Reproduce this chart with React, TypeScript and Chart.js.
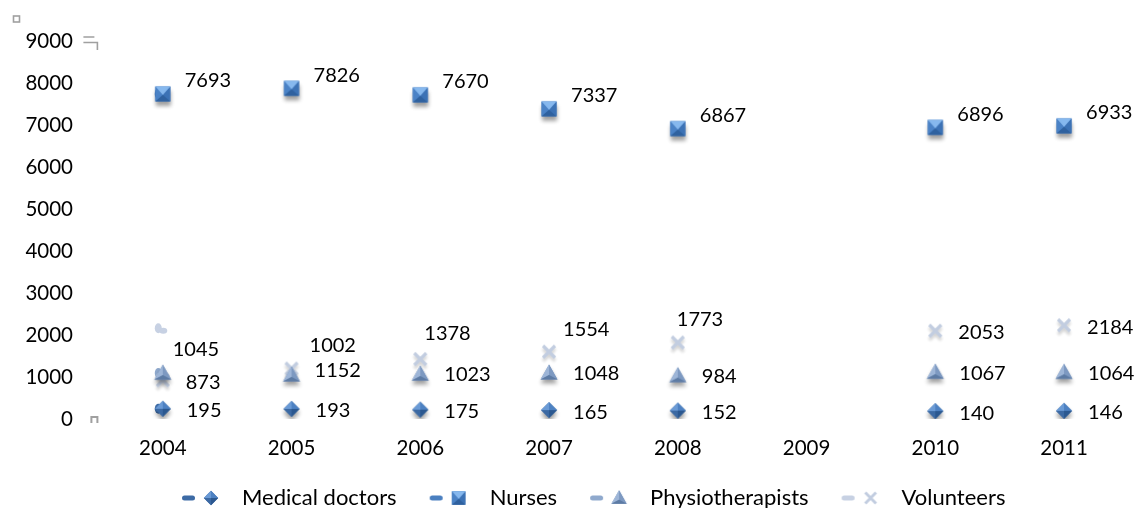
import React, { useEffect, useRef } from "react";
import { Chart, registerables } from "chart.js";

Chart.register(...registerables);

const years = ["2004", "2005", "2006", "2007", "2008", "2009", "2010", "2011"];
const medicalDoctors = [195, 193, 175, 165, 152, null, 140, 146];
const nurses = [7693, 7826, 7670, 7337, 6867, null, 6896, 6933];
const physiotherapists = [1045, 1002, 1023, 1048, 984, null, 1067, 1064];
const volunteers = [873, 1152, 1378, 1554, 1773, null, 2053, 2184];
const seriesNames = ["Medical doctors", "Nurses", "Physiotherapists", "Volunteers"];
const yMin = 0;
const yMax = 9000;
const yStep = 1000;

const FONT = "Lato, 'Open Sans', sans-serif";

type Pt = [number, number];

function poly(g: CanvasRenderingContext2D, pts: Pt[], fill: string) {
  g.beginPath();
  g.moveTo(pts[0][0], pts[0][1]);
  for (let i = 1; i < pts.length; i++) g.lineTo(pts[i][0], pts[i][1]);
  g.closePath();
  g.fillStyle = fill;
  g.fill();
}

function drawShape(g: CanvasRenderingContext2D, kind: string, cx: number, cy: number, s: number, shadow: boolean) {
  const setShadow = () => {
    if (shadow) {
      g.shadowColor = "rgba(0,0,0,0.38)";
      g.shadowBlur = 4;
      g.shadowOffsetY = 4;
    }
  };
  const clearShadow = () => {
    g.shadowColor = "transparent";
    g.shadowBlur = 0;
    g.shadowOffsetY = 0;
  };
  if (kind === "diamond") {
    const r = 8 * s;
    const T: Pt = [cx, cy - r], R: Pt = [cx + r, cy], B: Pt = [cx, cy + r], L: Pt = [cx - r, cy], C: Pt = [cx, cy];
    g.save(); setShadow(); poly(g, [T, R, B, L], "#3d6ca7"); g.restore(); clearShadow();
    poly(g, [T, L, C], "#6a9ad5");
    poly(g, [T, R, C], "#4d81c2");
    poly(g, [R, B, C], "#2b5890");
    poly(g, [B, L, C], "#3b69a3");
  } else if (kind === "square") {
    const h = 7.5 * s;
    const TL: Pt = [cx - h, cy - h], TR: Pt = [cx + h, cy - h], BR: Pt = [cx + h, cy + h], BL: Pt = [cx - h, cy + h], C: Pt = [cx, cy + 1 * s];
    g.save(); setShadow(); poly(g, [TL, TR, BR, BL], "#3f76b8"); g.restore(); clearShadow();
    poly(g, [TL, BL, C], "#4a82c6");
    poly(g, [TR, BR, C], "#3c72b5");
    poly(g, [BL, BR, C], "#2f619f");
    poly(g, [TL, TR, C], "#86b8ee");
  } else if (kind === "triangle") {
    const A: Pt = [cx, cy - 8.5 * s], BL: Pt = [cx - 8.5 * s, cy + 6.5 * s], BR: Pt = [cx + 8.5 * s, cy + 6.5 * s], C: Pt = [cx, cy + 2 * s];
    g.save(); setShadow(); poly(g, [A, BR, BL], "#7591bb"); g.restore(); clearShadow();
    poly(g, [A, BL, C], "#9db5d7");
    poly(g, [A, BR, C], "#7d99c1");
    poly(g, [BL, BR, C], "#5d7ba4");
  } else if (kind === "cross") {
    const r = 6 * s;
    g.save();
    if (shadow) {
      g.shadowColor = "rgba(0,0,0,0.18)";
      g.shadowBlur = 3;
      g.shadowOffsetY = 3;
    }
    g.strokeStyle = "#c2cde0";
    g.lineWidth = 3.2 * s;
    g.beginPath();
    g.moveTo(cx - r, cy - r); g.lineTo(cx + r, cy + r);
    g.moveTo(cx + r, cy - r); g.lineTo(cx - r, cy + r);
    g.stroke();
    g.restore();
  }
}

function makeMarker(kind: string): HTMLCanvasElement {
  const c = document.createElement("canvas");
  c.width = 32; c.height = 32;
  const g = c.getContext("2d")!;
  drawShape(g, kind, 16, 14, 1, true);
  return c;
}

const ICON_LEFT = 7;
function makeLegendIcon(kind: string, dash: string): HTMLCanvasElement {
  const c = document.createElement("canvas");
  c.width = 49 + ICON_LEFT; c.height = 22;
  const g = c.getContext("2d")!;
  g.fillStyle = dash;
  g.beginPath();
  const x0 = ICON_LEFT, r = 2.5;
  g.moveTo(x0 + r, 8.5);
  g.lineTo(x0 + 13 - r, 8.5);
  g.arc(x0 + 13 - r, 11, r, -Math.PI / 2, Math.PI / 2);
  g.lineTo(x0 + r, 13.5);
  g.arc(x0 + r, 11, r, Math.PI / 2, Math.PI * 1.5);
  g.closePath();
  g.fill();
  drawShape(g, kind, x0 + 29, 11, 0.9, false);
  return c;
}

const markerKinds = ["diamond", "square", "triangle", "cross"];
const dashColors = ["#3d6ba5", "#4a7fc0", "#8fa9cd", "#c7d1e3"];

// label placement (dx to text left edge, dy from point) per series, with a few displaced labels
const labelDefaults: Pt[] = [[24, 0], [22, -15], [24, -1], [23, 0]];
const labelOverrides: Record<string, Pt> = {
  "2-0": [10, -26],
  "2-1": [18, -31],
  "3-2": [4, -28],
  "3-3": [14, -24],
  "3-4": [-1, -25],
};

const dataLabelPlugin = {
  id: "dataLabels",
  afterDatasetsDraw(chart: any) {
    const ctx = chart.ctx as CanvasRenderingContext2D;
    ctx.save();
    ctx.font = `20px ${FONT}`;
    ctx.fillStyle = "#000";
    ctx.textAlign = "left";
    ctx.textBaseline = "middle";
    chart.data.datasets.forEach((ds: any, di: number) => {
      const meta = chart.getDatasetMeta(di);
      meta.data.forEach((pt: any, i: number) => {
        const v = ds.data[i];
        if (v === null || v === undefined) return;
        const off = labelOverrides[`${di}-${i}`] || labelDefaults[di];
        ctx.fillText(String(v), pt.x + off[0], pt.y + off[1]);
      });
    });
    ctx.restore();
  },
};

const LEGEND_SHIFT = 22;

const artifactPlugin = {
  id: "artifacts",
  afterLayout(chart: any) {
    const lg = chart.legend;
    if (lg) {
      lg.left += LEGEND_SHIFT;
      lg.right += LEGEND_SHIFT;
    }
  },
  beforeDatasetsDraw(chart: any) {
    // small stray stubs behind the first markers
    const ctx = chart.ctx as CanvasRenderingContext2D;
    ctx.save();
    chart.data.datasets.forEach((ds: any, di: number) => {
      const meta = chart.getDatasetMeta(di);
      const p = meta.data[0];
      if (!p) return;
      let y = p.y - 2;
      if (di === 3) {
        const vals = (ds.data as (number | null)[]).filter((v) => v !== null) as number[];
        y = chart.scales.y.getPixelForValue(Math.max(...vals)) + 1;
      }
      ctx.fillStyle = dashColors[di];
      ctx.beginPath();
      ctx.ellipse(p.x - 4.5, y, 3.5, 5, 0, 0, Math.PI * 2);
      ctx.fill();
      if (di === 3) {
        ctx.beginPath();
        ctx.ellipse(p.x + 0.5, y + 2.5, 4, 3, 0, 0, Math.PI * 2);
        ctx.fill();
      }
    });
    ctx.restore();
  },
  afterDraw(chart: any) {
    const ctx = chart.ctx as CanvasRenderingContext2D;
    const a = chart.chartArea;
    const yTop = chart.scales.y.getPixelForValue(yMax);
    const yZero = chart.scales.y.getPixelForValue(yMin);
    ctx.save();
    ctx.strokeStyle = "#a0a0a0";
    ctx.lineWidth = 1.6;
    ctx.strokeRect(5.5, 8, 6, 6);
    const lx = a.left - 15;
    ctx.beginPath();
    ctx.moveTo(lx, yTop - 4); ctx.lineTo(lx + 11, yTop - 4);
    ctx.moveTo(lx, yTop + 1.5); ctx.lineTo(lx + 14, yTop + 1.5);
    ctx.lineTo(lx + 14, yTop + 9);
    ctx.stroke();
    ctx.lineWidth = 2;
    ctx.beginPath();
    ctx.moveTo(a.left - 7, yZero + 4);
    ctx.lineTo(a.left - 7, yZero - 2);
    ctx.lineTo(a.left - 1, yZero - 2);
    ctx.lineTo(a.left - 1, yZero + 4);
    ctx.stroke();
    ctx.restore();
  },
};

const noPad = (s: any) => {
  s.paddingTop = 0;
  s.paddingBottom = 0;
};

export default function App() {
  const ref = useRef<HTMLCanvasElement | null>(null);
  useEffect(() => {
    if (!ref.current) return;
    const markers = markerKinds.map((k) => makeMarker(k));
    const icons = markerKinds.map((k, i) => makeLegendIcon(k, dashColors[i]));
    const series = [medicalDoctors, nurses, physiotherapists, volunteers];
    const tickFont = { family: FONT, size: 20.5 };
    const chart = new Chart(ref.current, {
      type: "line",
      data: {
        labels: years,
        datasets: series.map((d, i) => ({
          label: seriesNames[i],
          data: d,
          showLine: false,
          pointStyle: markers[i] as any,
          pointRadius: 8,
          pointHoverRadius: 8,
          borderColor: dashColors[i],
          backgroundColor: dashColors[i],
        })),
      },
      options: {
        animation: false,
        responsive: false,
        events: [],
        layout: { autoPadding: false, padding: { top: 33, right: 6.6, bottom: -11, left: 0 } },
        scales: {
          x: {
            type: "category",
            offset: true,
            grid: { display: false, drawTicks: false },
            border: { display: false },
            ticks: { color: "#000", font: tickFont, padding: 16.7, maxRotation: 0, autoSkip: false },
            afterFit: (s: any) => { s.height = 42; noPad(s); },
          },
          y: {
            min: yMin,
            max: yMax,
            grid: { display: false, drawTicks: false },
            border: { display: false },
            ticks: { stepSize: yStep, color: "#000", font: tickFont, padding: 25.4, callback: (v: any) => String(v) },
            afterFit: (s: any) => { s.width = 90.4; noPad(s); },
          },
        },
        plugins: {
          tooltip: { enabled: false },
          legend: {
            display: true,
            position: "bottom",
            labels: {
              usePointStyle: true,
              pointStyleWidth: 49 + ICON_LEFT,
              padding: 26,
              color: "#000",
              font: { family: FONT, size: 22 },
              generateLabels: () =>
                seriesNames.map((n, i) => ({
                  text: n,
                  pointStyle: icons[i] as any,
                  fillStyle: "rgba(0,0,0,0)",
                  strokeStyle: "rgba(0,0,0,0)",
                  lineWidth: 0,
                  hidden: false,
                  datasetIndex: i,
                  fontColor: "#000",
                })),
            },
          },
        },
      } as any,
      plugins: [dataLabelPlugin, artifactPlugin],
    });
    return () => chart.destroy();
  }, []);
  return (
    <div style={{ width: 1127, height: 500 }}>
      <canvas ref={ref} width={1127} height={500} style={{ display: "block" }} />
    </div>
  );
}
